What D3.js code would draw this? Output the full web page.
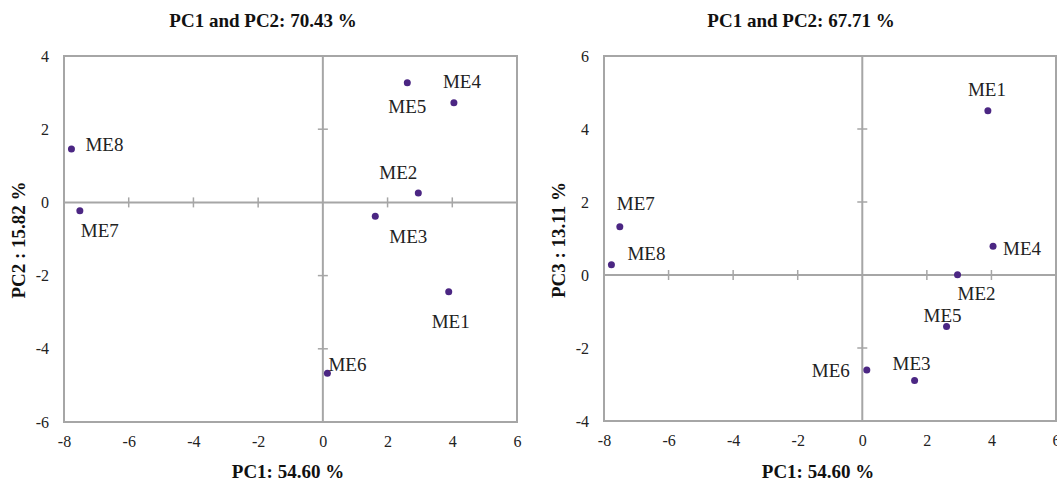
<!DOCTYPE html>
<html>
<head>
<meta charset="utf-8">
<script src="https://cdn.jsdelivr.net/npm/d3@7"></script>
<style>
  html, body { margin: 0; padding: 0; background: #fff; }
  svg { display: block; font-family: "Liberation Serif", "Times New Roman", serif; }
</style>
</head>
<body>
<svg id="chart" width="1057" height="483"></svg>
<script>
// ---- Data ----
const samples = ["ME1", "ME2", "ME3", "ME4", "ME5", "ME6", "ME7", "ME8"];
const pc1 = [3.89, 2.95, 1.62, 4.05, 2.61, 0.14, -7.51, -7.77];
const pc2 = [-2.44, 0.26, -0.38, 2.72, 3.27, -4.67, -0.23, 1.46];
const pc3 = [4.50, 0.01, -2.89, 0.79, -1.41, -2.60, 1.32, 0.28];
const xTicks = [-8, -6, -4, -2, 0, 2, 4, 6];
const yTicksLeft = [-6, -4, -2, 0, 2, 4];
const yTicksRight = [-4, -2, 0, 2, 4, 6];
const titles = ["PC1 and PC2: 70.43 %", "PC1 and PC2: 67.71 %"];
const xTitle = "PC1: 54.60 %";
const yTitles = ["PC2 : 15.82 %", "PC3 : 13.11 %"];

// ---- Layout (positions/styles) ----
const grey = "#a6a6a6";
const dotColor = "#4b2683";
const fmt = d => String(d);
const panels = [
  { left: 64, right: 517, top: 56, bottom: 422, xDom: [-8, 6], yDom: [-6, 4], yVals: pc2, yTicks: yTicksLeft,
    title: titles[0], titleX: 263, xTitleX: 288, yTitle: yTitles[0], yTitleX: 18,
    offsets: { ME1: [2, 30], ME2: [-20, -20], ME3: [33, 20], ME4: [8, -21], ME5: [0, 24], ME6: [20, -9], ME7: [20, 20], ME8: [33, -4] } },
  { left: 604, right: 1056, top: 56, bottom: 421, xDom: [-8, 6], yDom: [-4, 6], yVals: pc3, yTicks: yTicksRight,
    title: titles[1], titleX: 801, xTitleX: 818, yTitle: yTitles[1], yTitleX: 558,
    offsets: { ME1: [-1, -21], ME2: [19, 19], ME3: [-3, -17], ME4: [29, 2], ME5: [-4, -11], ME6: [-36, 1], ME7: [16, -23], ME8: [35, -11] } }
];

const svg = d3.select("#chart");

panels.forEach(p => {
  const x = d3.scaleLinear().domain(p.xDom).range([p.left, p.right]);
  const y = d3.scaleLinear().domain(p.yDom).range([p.bottom, p.top]);
  const g = svg.append("g");

  // Title
  g.append("text").attr("x", p.titleX).attr("y", 20)
    .attr("text-anchor", "middle").attr("dominant-baseline", "central")
    .attr("font-weight", "bold").attr("font-size", 19).attr("fill", "#111")
    .text(p.title);

  // Bottom tick labels
  const xAxis = d3.axisBottom(x).tickValues(xTicks).tickSize(0).tickPadding(14).tickFormat(fmt);
  const gx = g.append("g").attr("transform", `translate(0,${p.bottom})`).call(xAxis);
  gx.select(".domain").remove();
  gx.selectAll("text").attr("font-size", 16).attr("fill", "#222")
    .attr("font-family", "Liberation Serif, Times New Roman, serif");

  // Left tick labels
  const yAxis = d3.axisLeft(y).tickValues(p.yTicks).tickSize(0).tickPadding(15).tickFormat(fmt);
  const gy = g.append("g").attr("transform", `translate(${p.left},0)`).call(yAxis);
  gy.select(".domain").remove();
  gy.selectAll("text").attr("font-size", 16).attr("fill", "#222")
    .attr("font-family", "Liberation Serif, Times New Roman, serif");

  // Zero lines
  g.append("line").attr("x1", p.left).attr("x2", p.right).attr("y1", y(0)).attr("y2", y(0))
    .attr("stroke", grey).attr("stroke-width", 2);
  g.append("line").attr("x1", x(0)).attr("x2", x(0)).attr("y1", p.top).attr("y2", p.bottom)
    .attr("stroke", grey).attr("stroke-width", 2);

  // Cross ticks on zero lines
  g.selectAll(".xt").data(xTicks.filter(d => d !== 0 && d !== p.xDom[0] && d !== p.xDom[1])).enter()
    .append("line").attr("x1", d => x(d)).attr("x2", d => x(d))
    .attr("y1", y(0) - 5).attr("y2", y(0) + 5).attr("stroke", grey).attr("stroke-width", 1.5);
  g.selectAll(".yt").data(p.yTicks.filter(d => d !== 0 && d !== p.yDom[0] && d !== p.yDom[1])).enter()
    .append("line").attr("x1", x(0) - 5).attr("x2", x(0) + 5)
    .attr("y1", d => y(d)).attr("y2", d => y(d)).attr("stroke", grey).attr("stroke-width", 1.5);

  // Box
  g.append("rect").attr("x", p.left).attr("y", p.top)
    .attr("width", p.right - p.left).attr("height", p.bottom - p.top)
    .attr("fill", "none").attr("stroke", grey).attr("stroke-width", 2);

  // Points
  const pts = samples.map((s, i) => ({ name: s, x: pc1[i], y: p.yVals[i] }));
  g.selectAll("circle.pt").data(pts).enter().append("circle")
    .attr("class", "pt")
    .attr("cx", d => x(d.x)).attr("cy", d => y(d.y)).attr("r", 3.5)
    .attr("fill", dotColor);

  g.selectAll("text.lbl").data(pts).enter().append("text")
    .attr("class", "lbl")
    .attr("x", d => x(d.x) + p.offsets[d.name][0])
    .attr("y", d => y(d.y) + p.offsets[d.name][1])
    .attr("text-anchor", "middle").attr("dominant-baseline", "central")
    .attr("font-size", 19).attr("fill", "#222")
    .text(d => d.name);

  // Axis titles
  g.append("text").attr("x", p.xTitleX).attr("y", 471)
    .attr("text-anchor", "middle").attr("dominant-baseline", "central")
    .attr("font-weight", "bold").attr("font-size", 19).attr("fill", "#111")
    .text(xTitle);
  g.append("text")
    .attr("transform", `translate(${p.yTitleX},240) rotate(-90)`)
    .attr("text-anchor", "middle").attr("dominant-baseline", "central")
    .attr("font-weight", "bold").attr("font-size", 19).attr("fill", "#111")
    .text(p.yTitle);
});
</script>
</body>
</html>
